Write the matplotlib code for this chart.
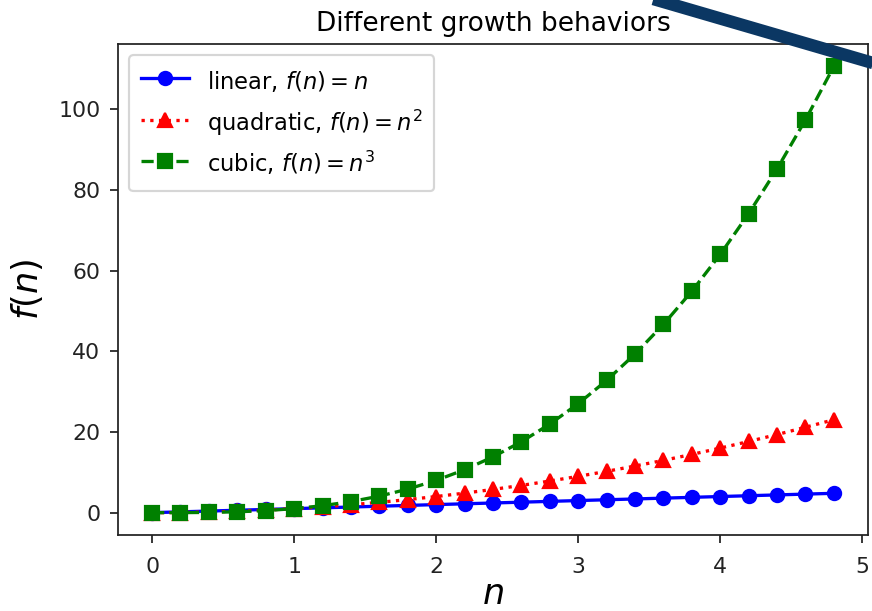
import matplotlib
matplotlib.use("Agg")
import matplotlib.pyplot as plt
from matplotlib.lines import Line2D

# data
n = [0.0, 0.2, 0.4, 0.6, 0.8, 1.0, 1.2, 1.4, 1.6, 1.8, 2.0, 2.2, 2.4,
     2.6, 2.8, 3.0, 3.2, 3.4, 3.6, 3.8, 4.0, 4.2, 4.4, 4.6, 4.8]
linear = [0.0, 0.2, 0.4, 0.6, 0.8, 1.0, 1.2, 1.4, 1.6, 1.8, 2.0, 2.2, 2.4,
          2.6, 2.8, 3.0, 3.2, 3.4, 3.6, 3.8, 4.0, 4.2, 4.4, 4.6, 4.8]
quadratic = [0.0, 0.04, 0.16, 0.36, 0.64, 1.0, 1.44, 1.96, 2.56, 3.24, 4.0,
             4.84, 5.76, 6.76, 7.84, 9.0, 10.24, 11.56, 12.96, 14.44, 16.0,
             17.64, 19.36, 21.16, 23.04]
cubic = [0.0, 0.008, 0.064, 0.216, 0.512, 1.0, 1.728, 2.744, 4.096, 5.832,
         8.0, 10.648, 13.824, 17.576, 21.952, 27.0, 32.768, 39.304, 46.656,
         54.872, 64.0, 74.088, 85.184, 97.336, 110.592]

DPI = 158
fig = plt.figure(figsize=(872 / DPI, 611 / DPI), dpi=DPI)
ax = fig.add_axes([0.1353, 0.1244, 0.8601, 0.8036])

ax.plot(n, linear, 'bo-', label=r'linear, $f(n)=n$')
ax.plot(n, quadratic, 'r^:', label=r'quadratic, $f(n)=n^2$')
ax.plot(n, cubic, 'gs--', label=r'cubic, $f(n)=n^3$')

ax.set_title('Different growth behaviors', fontsize=12, pad=6)
ax.set_xlabel(r'$n$', fontsize=16, labelpad=0)
ax.set_ylabel(r'$f(n)$', fontsize=16, labelpad=6)
ax.tick_params(length=3.5, colors='#222222')
ax.tick_params(axis='y', pad=4.5)
ax.tick_params(axis='x', pad=6.5)
for s in ax.spines.values():
    s.set_color('#222222')
ax.legend(loc='upper left', fontsize=10.3, labelspacing=0.5, borderpad=0.53,
          handleheight=1.6, handlelength=2.1)

# dark diagonal stroke across the top right corner
fig.add_artist(Line2D([0.734, 1.02], [1.008, 0.889], transform=fig.transFigure,
                      color='#0b3763', lw=5.7, solid_capstyle='butt'))

fig.savefig('out.png', dpi=DPI)
